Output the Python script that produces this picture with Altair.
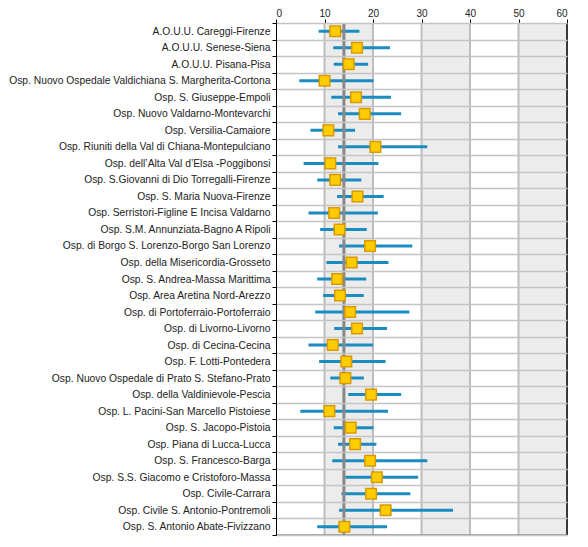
import altair as alt
import pandas as pd

hospitals = [
    "A.O.U.U. Careggi-Firenze",
    "A.O.U.U. Senese-Siena",
    "A.O.U.U. Pisana-Pisa",
    "Osp. Nuovo Ospedale Valdichiana S. Margherita-Cortona",
    "Osp. S. Giuseppe-Empoli",
    "Osp. Nuovo Valdarno-Montevarchi",
    "Osp. Versilia-Camaiore",
    "Osp. Riuniti della Val di Chiana-Montepulciano",
    "Osp. dell\u2019Alta Val d\u2019Elsa -Poggibonsi",
    "Osp. S.Giovanni di Dio Torregalli-Firenze",
    "Osp. S. Maria Nuova-Firenze",
    "Osp. Serristori-Figline E Incisa Valdarno",
    "Osp. S.M. Annunziata-Bagno A Ripoli",
    "Osp. di Borgo S. Lorenzo-Borgo San Lorenzo",
    "Osp. della Misericordia-Grosseto",
    "Osp. S. Andrea-Massa Marittima",
    "Osp. Area Aretina Nord-Arezzo",
    "Osp. di Portoferraio-Portoferraio",
    "Osp. di Livorno-Livorno",
    "Osp. di Cecina-Cecina",
    "Osp. F. Lotti-Pontedera",
    "Osp. Nuovo Ospedale di Prato S. Stefano-Prato",
    "Osp. della Valdinievole-Pescia",
    "Osp. L. Pacini-San Marcello Pistoiese",
    "Osp. S. Jacopo-Pistoia",
    "Osp. Piana di Lucca-Lucca",
    "Osp. S. Francesco-Barga",
    "Osp. S.S. Giacomo e Cristoforo-Massa",
    "Osp. Civile-Carrara",
    "Osp. Civile S. Antonio-Pontremoli",
    "Osp. S. Antonio Abate-Fivizzano",
]
lower = [8.8, 11.8, 11.9, 4.8, 11.4, 12.8, 7.1, 12.8, 5.7, 8.5, 12.6, 6.7, 9.1, 13.0, 10.4,
         8.5, 9.7, 8.1, 12.0, 6.7, 8.9, 11.2, 14.9, 5.0, 11.9, 12.8, 11.6, 14.3, 13.5, 13.0, 8.5]
point = [12.2, 16.7, 15.0, 10.0, 16.5, 18.3, 10.8, 20.5, 11.2, 12.2, 16.8, 12.0, 13.1, 19.4, 15.6,
         12.6, 13.2, 15.3, 16.7, 11.7, 14.5, 14.3, 19.6, 11.0, 15.4, 16.3, 19.4, 20.8, 19.6, 22.6, 14.1]
upper = [17.2, 23.5, 19.0, 20.1, 23.7, 25.8, 16.3, 31.2, 21.1, 17.6, 22.2, 21.0, 18.7, 28.1, 23.2,
         18.6, 18.1, 27.5, 22.9, 20.0, 22.6, 18.1, 25.8, 23.1, 20.1, 20.7, 31.2, 29.3, 27.7, 36.5, 22.9]
reference_value = 14.0
band_starts = [10, 30, 50]
band_ends = [20, 40, 60]
grid_values = [10, 20, 30, 40, 50]
x_ticks = [0, 10, 20, 30, 40, 50, 60]

W, H = 291, 512
FONT = "Liberation Sans"

df = pd.DataFrame({"hosp": hospitals, "lo": lower, "pt": point, "hi": upper})
bands = pd.DataFrame({"a": band_starts, "b": band_ends})
grid = pd.DataFrame({"g": grid_values})
ref = pd.DataFrame({"r": [reference_value]})

xscale = alt.Scale(domain=[0, 60], nice=False, zero=False)
xaxis = alt.Axis(orient="top", values=x_ticks, grid=False, tickSize=4, tickColor="black",
                 domainColor="black", labelFontSize=10, labelFont=FONT, labelColor="#222",
                 title=None, labelPadding=1)
yscale = alt.Scale(paddingInner=0, paddingOuter=0)
yaxis = alt.Axis(title=None, labelFontSize=10.3, labelFont=FONT, labelColor="#222",
                 tickBand="extent", tickSize=4, tickColor="black", domainColor="black",
                 grid=True, gridColor="#c4c4c4", gridWidth=1.5, zindex=1, labelLimit=400,
                 labelPadding=2)

band_layer = alt.Chart(bands).mark_rect(color="#ececec").encode(
    x=alt.X("a:Q", scale=xscale, axis=xaxis), x2="b:Q"
)
grid_layer = alt.Chart(grid).mark_rule(color="#bdbdbd", strokeWidth=2).encode(
    x=alt.X("g:Q", scale=xscale)
)
ci_layer = alt.Chart(df).mark_rule(color="#1a8cbf", strokeWidth=3).encode(
    y=alt.Y("hosp:N", sort=hospitals, scale=yscale, axis=yaxis),
    x=alt.X("lo:Q", scale=xscale),
    x2="hi:Q",
)
ref_layer = alt.Chart(ref).mark_rule(color="#888888", strokeWidth=3).encode(
    x=alt.X("r:Q", scale=xscale)
)
pt_layer = alt.Chart(df).mark_square(size=112, fill="#ffcc00", stroke="#d99a00",
                                     strokeWidth=1.5, opacity=1).encode(
    y=alt.Y("hosp:N", sort=hospitals, scale=yscale, axis=yaxis),
    x=alt.X("pt:Q", scale=xscale),
)
right_border = alt.Chart(pd.DataFrame({"e": [60]})).mark_rule(color="black", strokeWidth=1.5).encode(
    x=alt.X("e:Q", scale=xscale)
)
bottom_border = alt.Chart(pd.DataFrame({"a": [0], "b": [60]})).mark_rule(
    color="#888888", strokeWidth=1.5).encode(
    x=alt.X("a:Q", scale=xscale), x2="b:Q", y=alt.value(H)
)

chart = alt.layer(
    band_layer, grid_layer, ci_layer, ref_layer, pt_layer, right_border, bottom_border
).properties(
    width=W, height=H, padding={"left": 0, "top": 0, "right": 5, "bottom": 0}
).configure_view(stroke=None).configure(background="white")

chart.save("out.html", embed_options={"renderer": "svg", "actions": False})
